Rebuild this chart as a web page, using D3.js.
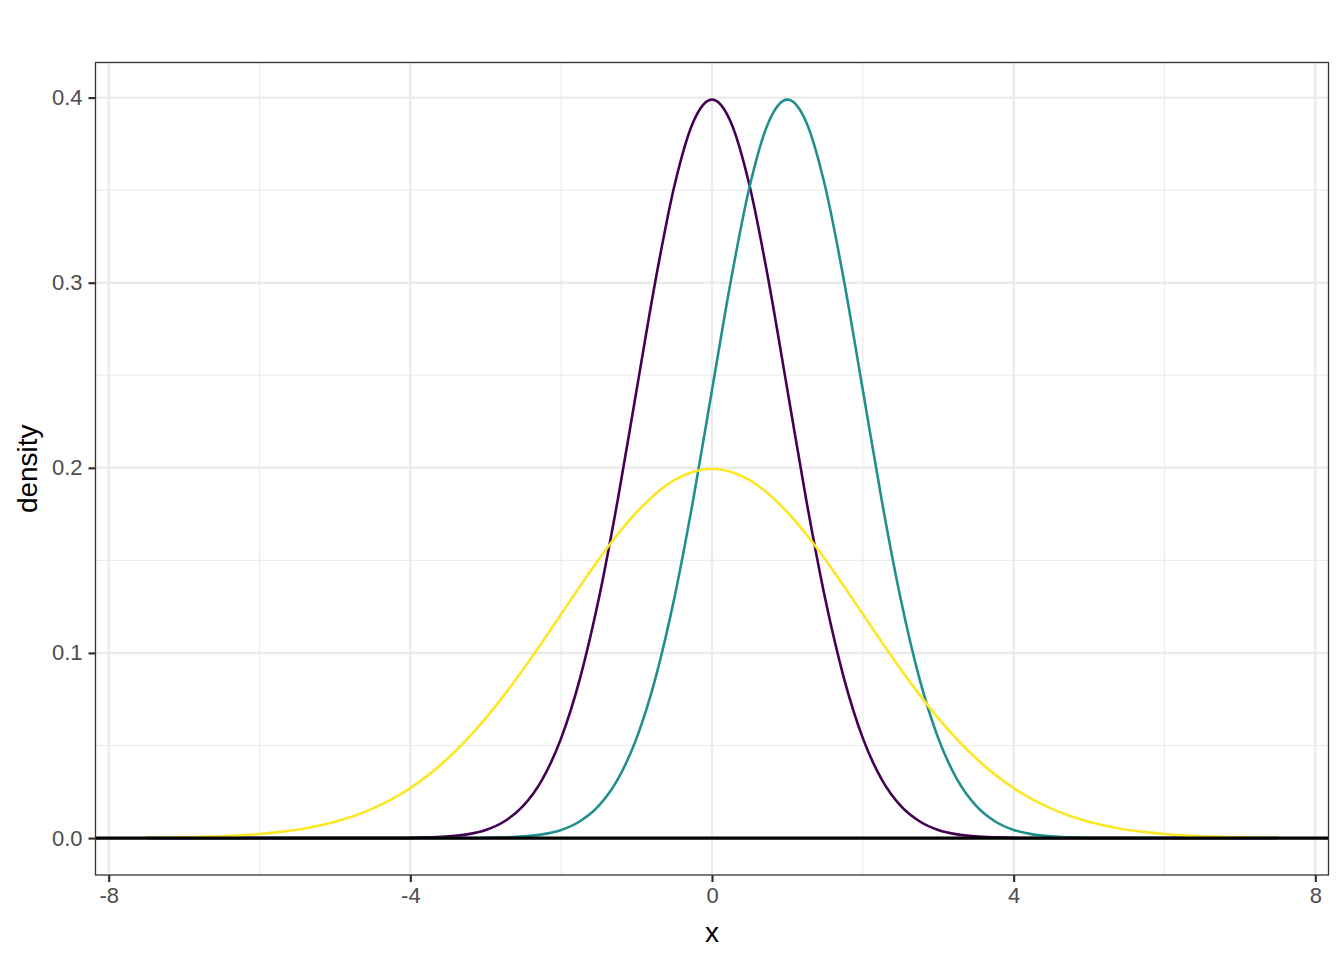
<!DOCTYPE html>
<html>
<head>
<meta charset="utf-8">
<script src="https://cdn.jsdelivr.net/npm/d3@7"></script>
<style>
  html, body { margin: 0; padding: 0; background: #fff; }
  svg { display: block; }
  text { font-family: Helvetica, Arial, "Liberation Sans", sans-serif; }
</style>
</head>
<body>
<div id="chart"></div>
<script>
var xs = [
  -7.5, -7.25, -7, -6.75, -6.5, -6.25, -6, -5.75, -5.5, -5.25,
  -5, -4.75, -4.5, -4.25, -4, -3.75, -3.5, -3.25, -3, -2.75,
  -2.5, -2.25, -2, -1.75, -1.5, -1.25, -1, -0.75, -0.5, -0.25,
  0, 0.25, 0.5, 0.75, 1, 1.25, 1.5, 1.75, 2, 2.25,
  2.5, 2.75, 3, 3.25, 3.5, 3.75, 4, 4.25, 4.5, 4.75,
  5, 5.25, 5.5, 5.75, 6, 6.25, 6.5, 6.75, 7, 7.25, 7.5
];

// dark purple curve (centred at 0, narrow)
var curvePurple = [
  0, 0, 0, 0, 0, 0, 0, 0, 0, 0,
  0, 0, 0, 0, 0.0001, 0.0004, 0.0009, 0.0020, 0.0044, 0.0091,
  0.0175, 0.0317, 0.0540, 0.0863, 0.1295, 0.1826, 0.2420, 0.3011, 0.3521, 0.3867,
  0.3989, 0.3867, 0.3521, 0.3011, 0.2420, 0.1826, 0.1295, 0.0863, 0.0540, 0.0317,
  0.0175, 0.0091, 0.0044, 0.0020, 0.0009, 0.0004, 0.0001, 0, 0, 0,
  0, 0, 0, 0, 0, 0, 0, 0, 0, 0, 0
];

// teal curve (centred at 1, narrow)
var curveTeal = [
  0, 0, 0, 0, 0, 0, 0, 0, 0, 0,
  0, 0, 0, 0, 0, 0, 0, 0, 0.0001, 0.0004,
  0.0009, 0.0020, 0.0044, 0.0091, 0.0175, 0.0317, 0.0540, 0.0863, 0.1295, 0.1826,
  0.2420, 0.3011, 0.3521, 0.3867, 0.3989, 0.3867, 0.3521, 0.3011, 0.2420, 0.1826,
  0.1295, 0.0863, 0.0540, 0.0317, 0.0175, 0.0091, 0.0044, 0.0020, 0.0009, 0.0004,
  0.0001, 0, 0, 0, 0, 0, 0, 0, 0, 0, 0
];

// yellow curve (centred at 0, wide)
var curveYellow = [
  0.0002, 0.0003, 0.0004, 0.0007, 0.0010, 0.0015, 0.0022, 0.0032, 0.0045, 0.0064,
  0.0088, 0.0119, 0.0159, 0.0209, 0.0270, 0.0344, 0.0431, 0.0533, 0.0648, 0.0775,
  0.0913, 0.1059, 0.1210, 0.1360, 0.1506, 0.1641, 0.1760, 0.1859, 0.1933, 0.1979,
  0.1995, 0.1979, 0.1933, 0.1859, 0.1760, 0.1641, 0.1506, 0.1360, 0.1210, 0.1059,
  0.0913, 0.0775, 0.0648, 0.0533, 0.0431, 0.0344, 0.0270, 0.0209, 0.0159, 0.0119,
  0.0088, 0.0064, 0.0045, 0.0032, 0.0022, 0.0015, 0.0010, 0.0007, 0.0004, 0.0003, 0.0002
];

var seriesNames = ['purple', 'teal', 'yellow'];
var seriesColors = ['#440154', '#21908C', '#FDE725'];

var xMajor = [-8, -4, 0, 4, 8];
var xMinor = [-6, -2, 2, 6];
var xTickLabels = ['-8', '-4', '0', '4', '8'];
var yMajor = [0, 0.1, 0.2, 0.3, 0.4];
var yMinor = [0.05, 0.15, 0.25, 0.35];
var yTickLabels = ['0.0', '0.1', '0.2', '0.3', '0.4'];
var hlineY = 0;

var width = 1344;
var height = 960;
var panel = { left: 95.5, right: 1328.5, top: 62.5, bottom: 875 };

var svg = d3.select('#chart').append('svg')
  .attr('width', width)
  .attr('height', height);

var x = d3.scaleLinear()
  .domain([-8.175, 8.175])
  .range([panel.left, panel.right]);

var y = d3.scaleLinear()
  .domain([-0.01995, 0.41895])
  .range([panel.bottom, panel.top]);

// grid
var grid = svg.append('g').attr('class', 'grid');

grid.selectAll('.xminor')
  .data(xMinor)
  .enter()
  .append('line')
  .attr('x1', function (d) { return x(d); })
  .attr('x2', function (d) { return x(d); })
  .attr('y1', panel.top)
  .attr('y2', panel.bottom)
  .attr('stroke', '#EBEBEB')
  .attr('stroke-width', 1.2);

grid.selectAll('.yminor')
  .data(yMinor)
  .enter()
  .append('line')
  .attr('x1', panel.left)
  .attr('x2', panel.right)
  .attr('y1', function (d) { return y(d); })
  .attr('y2', function (d) { return y(d); })
  .attr('stroke', '#EBEBEB')
  .attr('stroke-width', 1.2);

grid.selectAll('.xmajor')
  .data(xMajor)
  .enter()
  .append('line')
  .attr('x1', function (d) { return x(d); })
  .attr('x2', function (d) { return x(d); })
  .attr('y1', panel.top)
  .attr('y2', panel.bottom)
  .attr('stroke', '#EBEBEB')
  .attr('stroke-width', 2.4);

grid.selectAll('.ymajor')
  .data(yMajor)
  .enter()
  .append('line')
  .attr('x1', panel.left)
  .attr('x2', panel.right)
  .attr('y1', function (d) { return y(d); })
  .attr('y2', function (d) { return y(d); })
  .attr('stroke', '#EBEBEB')
  .attr('stroke-width', 2.4);

// curves
svg.append('clipPath')
  .attr('id', 'panel-clip')
  .append('rect')
  .attr('x', panel.left)
  .attr('y', panel.top)
  .attr('width', panel.right - panel.left)
  .attr('height', panel.bottom - panel.top);

var series = [curvePurple, curveTeal, curveYellow].map(function (vals, i) {
  return {
    name: seriesNames[i],
    color: seriesColors[i],
    values: xs.map(function (xv, j) { return [xv, vals[j]]; })
  };
});

var line = d3.line()
  .x(function (d) { return x(d[0]); })
  .y(function (d) { return y(d[1]); })
  .curve(d3.curveMonotoneX);

var curves = svg.append('g')
  .attr('clip-path', 'url(#panel-clip)');

curves.selectAll('.curve')
  .data(series)
  .enter()
  .append('path')
  .attr('class', 'curve')
  .attr('fill', 'none')
  .attr('stroke', function (d) { return d.color; })
  .attr('stroke-width', 2.6)
  .attr('stroke-linejoin', 'round')
  .attr('d', function (d) { return line(d.values); });

curves.append('line')
  .attr('x1', panel.left)
  .attr('x2', panel.right)
  .attr('y1', y(hlineY))
  .attr('y2', y(hlineY))
  .attr('stroke', '#000')
  .attr('stroke-width', 3.2);

// panel border
svg.append('rect')
  .attr('x', panel.left)
  .attr('y', panel.top)
  .attr('width', panel.right - panel.left)
  .attr('height', panel.bottom - panel.top)
  .attr('fill', 'none')
  .attr('stroke', '#333333')
  .attr('stroke-width', 1.3);

// axes
var xAxis = d3.axisBottom(x)
  .tickValues(xMajor)
  .tickSize(7)
  .tickPadding(5)
  .tickFormat(function (d, i) { return xTickLabels[i]; });

var yAxis = d3.axisLeft(y)
  .tickValues(yMajor)
  .tickSize(7)
  .tickPadding(6)
  .tickFormat(function (d, i) { return yTickLabels[i]; });

var gx = svg.append('g')
  .attr('transform', 'translate(0,' + panel.bottom + ')')
  .call(xAxis);

var gy = svg.append('g')
  .attr('transform', 'translate(' + panel.left + ',0)')
  .call(yAxis);

[gx, gy].forEach(function (g) {
  g.select('.domain').remove();
  g.selectAll('.tick line')
    .attr('stroke', '#333333')
    .attr('stroke-width', 2.2);
  g.selectAll('.tick text')
    .attr('fill', '#4D4D4D')
    .style('font-size', '22px')
    .style('font-family', 'Helvetica, Arial, "Liberation Sans", sans-serif');
});

// axis titles
svg.append('text')
  .attr('x', (panel.left + panel.right) / 2)
  .attr('y', 942)
  .attr('text-anchor', 'middle')
  .attr('fill', '#000')
  .style('font-size', '28px')
  .text('x');

svg.append('text')
  .attr('transform', 'translate(37,' + ((panel.top + panel.bottom) / 2) + ') rotate(-90)')
  .attr('text-anchor', 'middle')
  .attr('fill', '#000')
  .style('font-size', '28px')
  .text('density');
</script>
</body>
</html>
